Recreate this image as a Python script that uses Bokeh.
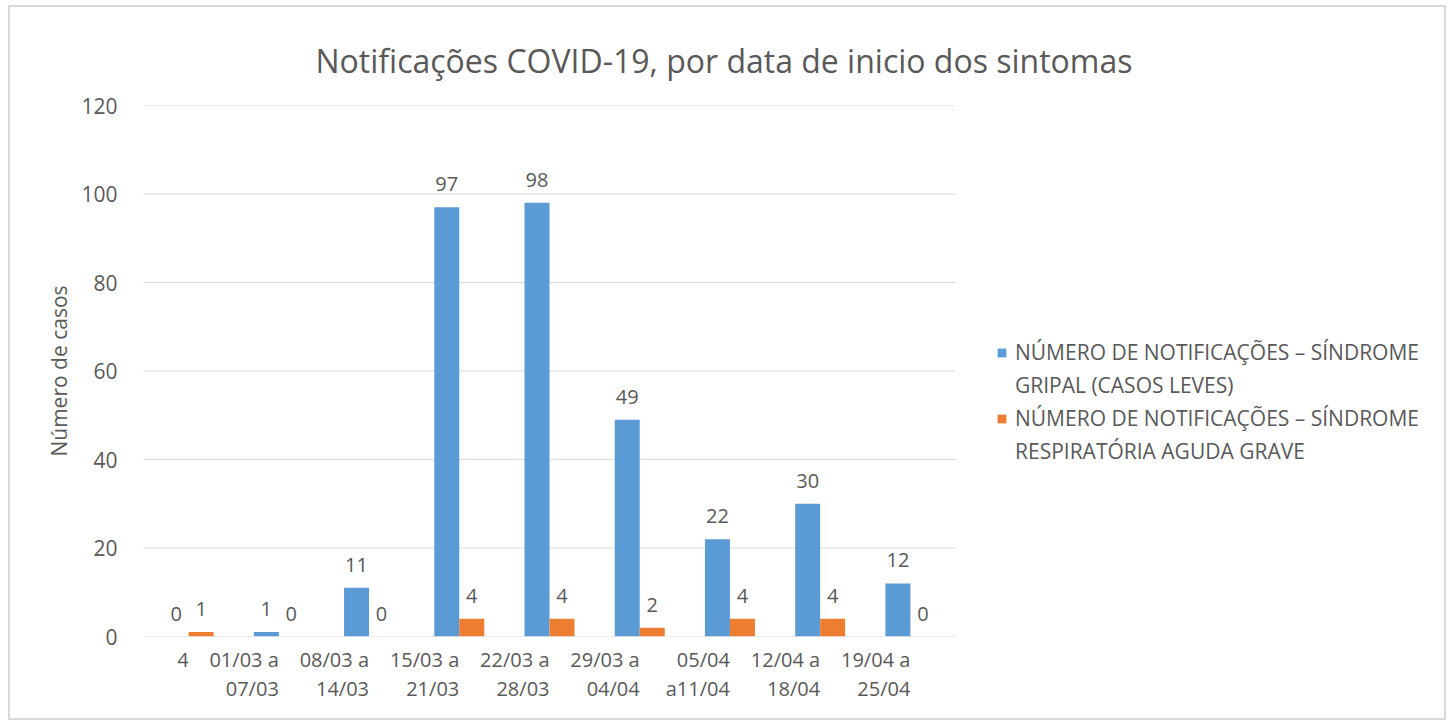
from bokeh.plotting import figure
from bokeh.models import (ColumnDataSource, Range1d, LabelSet, Legend, LegendItem,
                          FixedTicker, LinearAxis)
from bokeh.core.properties import value
from bokeh.transform import dodge
from bokeh.embed import file_html
from bokeh.resources import INLINE

categories = ["4", "01/03 a 07/03", "08/03 a 14/03", "15/03 a 21/03", "22/03 a 28/03",
              "29/03 a 04/04", "05/04 a11/04", "12/04 a 18/04", "19/04 a 25/04"]
label_line1 = ["4", "01/03 a", "08/03 a", "15/03 a", "22/03 a", "29/03 a", "05/04", "12/04 a", "19/04 a"]
label_line2 = ["", "07/03", "14/03", "21/03", "28/03", "04/04", "a11/04", "18/04", "25/04"]
gripal = [0, 1, 11, 97, 98, 49, 22, 30, 12]
srag = [1, 0, 0, 4, 4, 2, 4, 4, 0]
legend_lines_1 = ["NÚMERO DE NOTIFICAÇÕES – SÍNDROME", "GRIPAL (CASOS LEVES)"]
legend_lines_2 = ["NÚMERO DE NOTIFICAÇÕES – SÍNDROME", "RESPIRATÓRIA AGUDA GRAVE"]
y_ticks = [0, 20, 40, 60, 80, 100, 120]
title_text = "Notificações COVID-19, por data de inicio dos sintomas"
y_label = "Número de casos"

FONT = "Open Sans"
GREY = "#595959"
GRID = "#d9d9d9"
BLUE = "#5b9bd5"
ORANGE = "#ed7d31"

n = len(categories)
centers = [i + 0.5 for i in range(n)]
src = ColumnDataSource(dict(xc=centers, g=gripal, s=srag,
                            gl=[str(v) for v in gripal], sl=[str(v) for v in srag]))

FRAME_W = 1300
PLOT_W = 812  # pixel width of the category area
x_end = n * FRAME_W / PLOT_W

p = figure(x_range=Range1d(0, x_end), y_range=Range1d(y_ticks[0], y_ticks[-1]),
           frame_width=FRAME_W, frame_height=531, output_backend="svg", toolbar_location=None,
           min_border_left=133, min_border_top=98, min_border_right=1, min_border_bottom=80,
           x_axis_type=None)
p.styles = {"border": "2px solid #d9d9d9", "box-sizing": "border-box"}
p.margin = (5, 0, 0, 8)

# gridlines over the category area only
p.segment(x0=[0] * len(y_ticks), x1=[n] * len(y_ticks), y0=y_ticks, y1=y_ticks,
          line_color=GRID, line_width=1)

bw = 0.277
r1 = p.vbar(x=dodge("xc", -bw / 2), top="g", width=bw, source=src,
            fill_color=BLUE, line_color=None)
r2 = p.vbar(x=dodge("xc", bw / 2), top="s", width=bw, source=src,
            fill_color=ORANGE, line_color=None)
blank = p.vbar(x=[], top=[], width=bw, fill_alpha=0, line_alpha=0)

for xoff, col, lab in ((-bw / 2, "g", "gl"), (bw / 2, "s", "sl")):
    p.add_layout(LabelSet(x=dodge("xc", xoff), y=col, text=lab, source=src,
                          text_align="center", text_baseline="bottom", y_offset=16,
                          text_font=value(FONT), text_font_size="20px", text_color=GREY))

p.title.text = title_text
p.title.align = "left"
p.title.offset = 172
p.title.text_font = FONT
p.title.text_font_size = "32px"
p.title.text_font_style = "normal"
p.title.text_color = GREY
p.title.standoff = 48

p.yaxis.ticker = FixedTicker(ticks=y_ticks)
p.yaxis.axis_line_color = None
p.yaxis.major_tick_line_color = None
p.yaxis.minor_tick_line_color = None
p.yaxis.major_label_text_font = FONT
p.yaxis.major_label_text_font_size = "21px"
p.yaxis.major_label_text_color = GREY
p.yaxis.major_label_standoff = 20
p.yaxis.axis_label = y_label
p.yaxis.axis_label_text_font = FONT
p.yaxis.axis_label_text_font_size = "21px"
p.yaxis.axis_label_text_font_style = "normal"
p.yaxis.axis_label_text_color = GREY
p.yaxis.axis_label_standoff = 5
p.ygrid.visible = False
p.xgrid.visible = False

common = dict(axis_line_color=None, major_tick_line_color=None, minor_tick_line_color=None,
              major_label_text_font=FONT, major_label_text_font_size="20px",
              major_label_text_color=GREY, major_label_orientation=0,
              ticker=FixedTicker(ticks=centers))
xa1 = LinearAxis(major_label_standoff=17,
                 major_label_overrides={c: t for c, t in zip(centers, label_line1)}, **common)
xa2 = LinearAxis(major_label_standoff=-7,
                 major_label_overrides={c: (t if t else " ") for c, t in zip(centers, label_line2)},
                 **common)
p.add_layout(xa1, "below")
p.add_layout(xa2, "below")

p.outline_line_color = None

legend = Legend(items=[LegendItem(label=legend_lines_1[0], renderers=[r1]),
                       LegendItem(label=legend_lines_1[1], renderers=[blank]),
                       LegendItem(label=legend_lines_2[0], renderers=[r2]),
                       LegendItem(label=legend_lines_2[1], renderers=[blank])],
                location=(853, 171), orientation="vertical",
                label_text_font=FONT, label_text_font_size="21px", label_text_color=GREY,
                glyph_width=11, glyph_height=11, label_standoff=8, spacing=5,
                padding=0, margin=0, border_line_color=None, background_fill_alpha=0)
p.add_layout(legend, "center")

open("out.html", "w").write(file_html(p, INLINE))
